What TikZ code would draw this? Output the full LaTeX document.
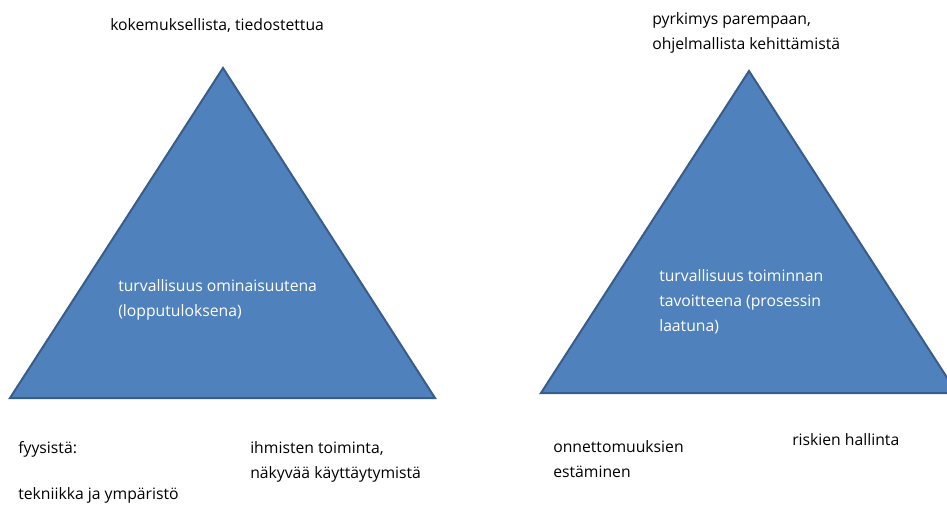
\documentclass[tikz,border=0pt]{standalone}
\usepackage{fontspec}
\setmainfont{Open Sans}
\definecolor{trifill}{HTML}{4F81BD}
\definecolor{triedge}{HTML}{385D8A}
\tikzset{
  tri/.style={fill=trifill, draw=triedge, line width=1.5pt, line join=miter},
  lbl/.style={anchor=base west, align=left, inner sep=0pt,
    font=\fontsize{11.8}{18.4}\selectfont},
  inlbl/.style={lbl, text=white}
}
\begin{document}
\begin{tikzpicture}[x=0.75pt,y=-0.75pt]
  \clip (0,0) rectangle (947,508);
  % triangles
  \filldraw[tri] (223,68) -- (435,398) -- (10,398) -- cycle;
  \filldraw[tri] (749,71) -- (957,393) -- (541,393) -- cycle;
  % left triangle (multi-line nodes: base = last line)
  \node[lbl] (kok) at (110,30) {kokemuksellista, tiedostettua};
  \node[inlbl] (omin) at (118,316.5) {turvallisuus ominaisuutena\\(lopputuloksena)};
  \node[lbl] (fyys) at (18,453) {fyysistä:};
  \node[lbl] (tekn) at (18,499) {tekniikka ja ympäristö};
  \node[lbl] (ihm) at (250,478) {ihmisten toiminta,\\näkyvää käyttäytymistä};
  % right triangle
  \node[lbl] (pyrk) at (652,49) {pyrkimys parempaan,\\ohjelmallista kehittämistä};
  \node[inlbl] (tavo) at (659,331) {turvallisuus toiminnan\\tavoitteena (prosessin\\laatuna)};
  \node[lbl] (onn) at (553,477) {onnettomuuksien\\estäminen};
  \node[lbl] (risk) at (792,445) {riskien hallinta};
\end{tikzpicture}
\end{document}
